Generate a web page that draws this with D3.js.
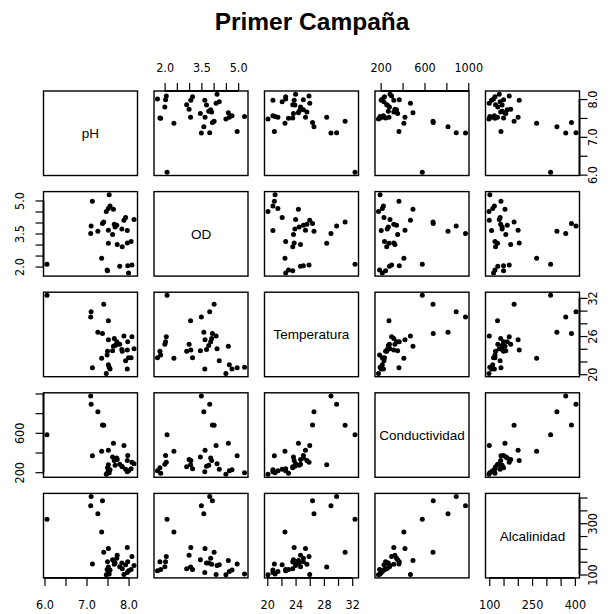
<!DOCTYPE html>
<html>
<head>
<meta charset="utf-8">
<script src="https://cdn.jsdelivr.net/npm/d3@7"></script>
<style>
  body { margin: 0; background: #fff; }
  svg { display: block; }
  .tick text { font-family: "Liberation Sans Narrow", "DejaVu Sans Condensed", "Liberation Sans", sans-serif; font-size: 12.5px; fill: #000; }
</style>
</head>
<body>
<div id="chart"></div>
<script>
// variables, in the order of the matrix
const varNames = ["pH", "OD", "Temperatura", "Conductividad", "Alcalinidad"];

// one value per sample
const pH = [6.06, 7.10, 7.11, 7.27, 7.38, 7.41, 7.14, 7.36, 7.89, 7.64, 7.52, 7.97, 7.52,
    7.50, 7.79, 7.98, 8.08, 8.00, 7.49, 8.06, 7.73, 7.97, 7.84, 8.13, 7.93, 7.62,
    7.68, 7.72, 7.66, 7.47, 7.52, 7.54, 7.56, 7.85];
const OD = [2.10, 3.50, 3.84, 3.60, 3.95, 4.02, 4.96, 2.38, 4.10, 4.60, 3.65, 3.07, 3.06,
    1.81, 2.01, 2.04, 2.07, 1.71, 1.84, 3.14, 3.00, 3.64, 3.71, 4.14, 4.23, 3.46,
    3.80, 3.88, 3.92, 4.50, 4.64, 5.26, 4.75, 2.90];
const Temperatura = [32.4, 29.0, 29.8, 26.6, 26.4, 31.0, 21.0, 22.5, 26.0, 24.4, 25.4, 23.8, 28.4,
    23.6, 24.7, 25.1, 25.9, 22.6, 23.0, 22.6, 24.7, 20.8, 23.9, 24.0, 22.1, 23.7,
    24.5, 25.1, 25.6, 20.1, 21.5, 21.1, 20.8, 23.6];
const Conductividad = [580, 975, 890, 815, 680, 678, 367, 412, 472, 495, 422, 320, 276,
    245, 280, 370, 300, 215, 190, 235, 330, 205, 260, 285, 230, 355,
    270, 345, 320, 180, 215, 195, 225, 255];
const Alcalinidad = [315, 368, 404, 337, 388, 187, 141, 266, 100, 155, 201, 205, 129,
    150, 130, 150, 170, 115, 120, 120, 175, 108, 145, 135, 138, 158,
    145, 163, 140, 99, 112, 102, 118, 122];

// tick positions and the ones that get a label
const tickVals = [
    [6.0, 6.5, 7.0, 7.5, 8.0],
    [2.0, 2.5, 3.0, 3.5, 4.0, 4.5, 5.0],
    [20, 22, 24, 26, 28, 30, 32],
    [200, 400, 600, 800, 1000],
    [100, 150, 200, 250, 300, 350, 400]
];
const labelsTopBottom = [[6, 7, 8], [2, 3.5, 5], [20, 24, 28, 32], [200, 600, 1000], [100, 250, 400]];
const labelsLeftRight = [[6, 7, 8], [2, 3.5, 5], [20, 26, 32], [200, 600], [100, 300]];
const tickFmt = [d3.format(".1f"), d3.format(".1f"), d3.format("d"), d3.format("d"), d3.format("d")];

const columns = [pH, OD, Temperatura, Conductividad, Alcalinidad];
const n = varNames.length;

const width = 611, height = 614;
const panelW = 94, panelH = 84.5;
const left0 = 43.5, top0 = 91, stepX = 110.5, stepY = 100.6;

const svg = d3.select("#chart").append("svg")
    .attr("width", width)
    .attr("height", height);

svg.append("rect").attr("width", width).attr("height", height).attr("fill", "#fff");

svg.append("text")
    .attr("x", 312)
    .attr("y", 30)
    .attr("text-anchor", "middle")
    .style("font-family", "Liberation Sans, Arial, sans-serif")
    .style("font-weight", "bold")
    .style("font-size", "24.5px")
    .text("Primer Campaña");

// R style range: 4% padding on each side
const xScales = columns.map(v => {
    const [lo, hi] = d3.extent(v);
    const pad = (hi - lo) * 0.04;
    return d3.scaleLinear().domain([lo - pad, hi + pad]).range([0, panelW]);
});
const yScales = xScales.map(s => s.copy().range([panelH, 0]));

function fmtTick(i, labels) {
    return d => labels.some(l => Math.abs(l - d) < 1e-9) ? tickFmt[i](d) : "";
}

for (let r = 0; r < n; r++) {
    for (let c = 0; c < n; c++) {
        const g = svg.append("g")
            .attr("transform", "translate(" + (left0 + c * stepX) + "," + (top0 + r * stepY) + ")");

        if (r === c) {
            g.append("text")
                .attr("x", panelW / 2)
                .attr("y", panelH / 2 + 5)
                .attr("text-anchor", "middle")
                .style("font-family", "Liberation Sans, Arial, sans-serif")
                .style("font-size", "13.5px")
                .text(varNames[r]);
        } else {
            const pts = columns[c].map((x, k) => ({x: x, y: columns[r][k]}));
            g.selectAll("circle")
                .data(pts)
                .join("circle")
                .attr("cx", d => xScales[c](d.x))
                .attr("cy", d => yScales[r](d.y))
                .attr("r", 2.5)
                .attr("fill", "#000");
        }

        g.append("rect")
            .attr("width", panelW)
            .attr("height", panelH)
            .attr("fill", "none")
            .attr("stroke", "#000")
            .attr("stroke-width", 1.4);

        // axes on alternating sides, as pairs() does
        if (r === 0 && c % 2 === 1) {
            drawAxis(g, d3.axisTop(xScales[c]).tickFormat(fmtTick(c, labelsTopBottom[c])), tickVals[c], xScales[c], "top");
        }
        if (r === n - 1 && c % 2 === 0) {
            drawAxis(g, d3.axisBottom(xScales[c]).tickFormat(fmtTick(c, labelsTopBottom[c])), tickVals[c], xScales[c], "bottom");
        }
        if (c === 0 && r % 2 === 1) {
            drawAxis(g, d3.axisLeft(yScales[r]).tickFormat(fmtTick(r, labelsLeftRight[r])), tickVals[r], yScales[r], "left");
        }
        if (c === n - 1 && r % 2 === 0) {
            drawAxis(g, d3.axisRight(yScales[r]).tickFormat(fmtTick(r, labelsLeftRight[r])), tickVals[r], yScales[r], "right");
        }
    }
}

function drawAxis(g, axis, ticks, s, side) {
    const a = g.append("g");
    if (side === "bottom") a.attr("transform", "translate(0," + panelH + ")");
    if (side === "right") a.attr("transform", "translate(" + panelW + ",0)");
    axis.tickValues(ticks).tickSizeOuter(0).tickSize(8);
    a.call(axis);
    a.select(".domain").remove();
    a.selectAll(".tick line").attr("stroke", "#000").attr("stroke-width", 1.2);

    // line from first to last tick only
    const p0 = s(ticks[0]), p1 = s(ticks[ticks.length - 1]);
    const horiz = side === "top" || side === "bottom";
    a.append("line")
        .attr("x1", horiz ? p0 : 0).attr("x2", horiz ? p1 : 0)
        .attr("y1", horiz ? 0 : p0).attr("y2", horiz ? 0 : p1)
        .attr("stroke", "#000").attr("stroke-width", 1.8);

    const txt = a.selectAll(".tick text");
    if (side === "top") txt.attr("y", -19.5).attr("dy", 0);
    if (side === "bottom") txt.attr("y", 31).attr("dy", 0);
    if (side === "left") {
        txt.attr("x", 0).attr("y", 0).attr("dy", 0)
            .attr("text-anchor", "middle")
            .attr("transform", "translate(-19.5,0) rotate(-90)");
    }
    if (side === "right") {
        txt.attr("x", 0).attr("y", 0).attr("dy", 0)
            .attr("text-anchor", "middle")
            .attr("transform", "translate(17.5,0) rotate(-90)");
    }
}
</script>
</body>
</html>
